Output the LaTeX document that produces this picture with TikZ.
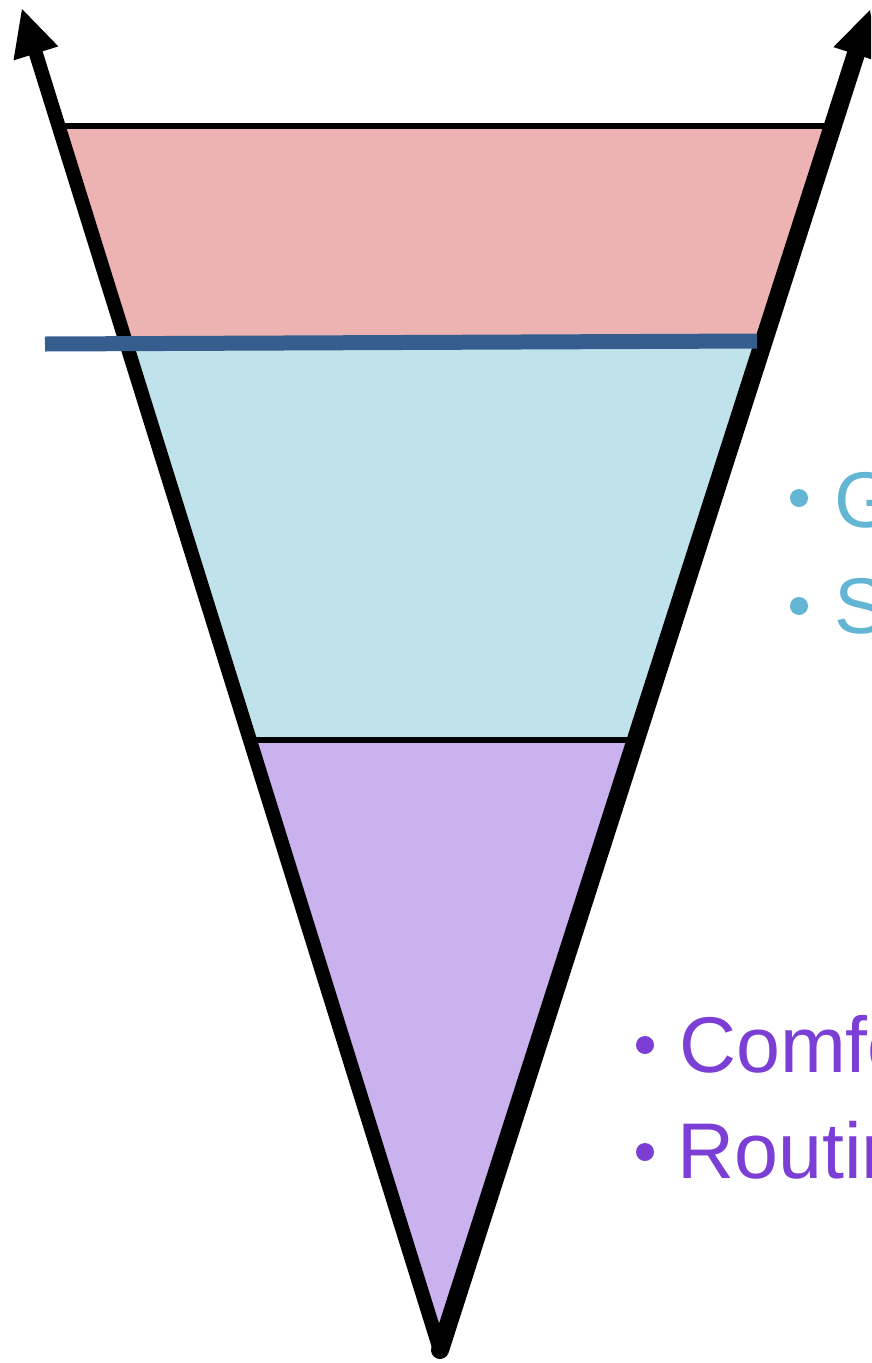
\documentclass[tikz,border=0pt]{standalone}
\usepackage{fontspec}
\setmainfont{Liberation Sans}
\definecolor{pinkfill}{RGB}{237,179,179}
\definecolor{bluefill}{RGB}{192,226,235}
\definecolor{purplefill}{RGB}{202,178,238}
\definecolor{bandblue}{RGB}{53,94,142}
\definecolor{textblue}{RGB}{98,182,212}
\definecolor{textpurple}{RGB}{124,63,214}
\tikzset{
  conel/.style={line width=14pt, line cap=round, draw=black},
  coner/.style={line width=18pt, line cap=round, draw=black},
  levelline/.style={line width=6pt, draw=black},
  bandline/.style={line width=15pt, draw=bandblue},
  bulletdot/.style={circle, inner sep=0pt, minimum size=18pt},
  itemtext/.style={anchor=base west, inner sep=0pt, font=\fontsize{79}{79}\selectfont},
}
\begin{document}
\begin{tikzpicture}[x=1pt,y=-1pt]
\useasboundingbox (0,0) rectangle (871,1363);
\clip (0,0) rectangle (871,1363);
% key coordinates
\coordinate (tip) at (440,1350);
\coordinate (ltip) at (22,9);
\coordinate (rtip) at (870,10);
\coordinate (lbase) at (35.9,53.4);
\coordinate (rbase) at (855.8,54.3);
\coordinate (l1) at (58.3,46.4);
\coordinate (l2) at (13.5,60.4);
\coordinate (r1) at (833.4,47.1);
\coordinate (r2) at (878.2,61.5);
\coordinate (topL) at (40,126);
\coordinate (topR) at (840,126);
\coordinate (bandL) at (45,344);
\coordinate (bandR) at (757,341);
\coordinate (midL) at (200,740);
\coordinate (midR) at (700,740);
% fills clipped to cone
\begin{scope}
  \clip (tip) -- (ltip) -- (rtip) -- cycle;
  \fill[pinkfill] (0,126) -- (871,126) -- (871,341) -- (bandR) -- (bandL) -- (0,344) -- cycle;
  \fill[bluefill] (0,344) -- (bandL) -- (bandR) -- (871,341) -- (871,740) -- (0,740) -- cycle;
  \fill[purplefill] (0,740) rectangle (871,1363);
  \draw[levelline] (topL) -- (topR);
  \draw[levelline] (midL) -- (midR);
\end{scope}
% cone sides
\draw[conel] (tip) -- (lbase);
\draw[coner] (tip) -- (rbase);
% arrowheads
\fill[black] (ltip) -- (l1) -- (l2) -- cycle;
\fill[black] (rtip) -- (r1) -- (r2) -- cycle;
% blue band line
\draw[bandline] (bandL) -- (bandR);
% bullets and text
\node[bulletdot, fill=textblue] (b1) at (799,498) {};
\node[bulletdot, fill=textblue] (b2) at (799,606) {};
\node[itemtext, text=textblue] (t1) at (834,527) {G};
\node[itemtext, text=textblue] (t2) at (834,633) {S};
\node[bulletdot, fill=textpurple] (b3) at (645,1045) {};
\node[bulletdot, fill=textpurple] (b4) at (645,1152) {};
\node[itemtext, text=textpurple] (t3) at (679,1072) {Comfo};
\node[itemtext, text=textpurple] (t4) at (677,1178) {Routin};
\end{tikzpicture}
\end{document}
